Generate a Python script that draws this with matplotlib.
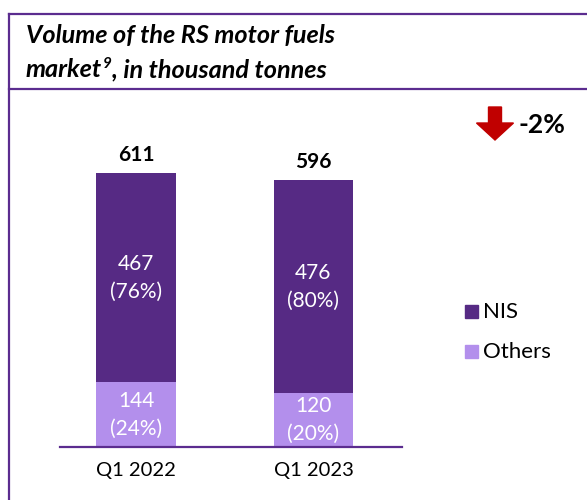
import matplotlib
matplotlib.use("Agg")
import matplotlib.pyplot as plt
from matplotlib.lines import Line2D
from matplotlib.patches import FancyArrow

plt.rcParams['font.family'] = ['Lato', 'DejaVu Sans']

categories = ["Q1 2022", "Q1 2023"]
nis = [467, 476]
others = [144, 120]
totals = [611, 596]
nis_pct = ["76%", "80%"]
others_pct = ["24%", "20%"]
change = "-2%"

dark = "#562a84"
light = "#b38fec"
frame = "#5b2c8f"

fig = plt.figure(figsize=(5.87, 5.0), dpi=100)

# frame around the chart
W, H = 587, 500
def fx(px): return px / W
def fy(py): return 1 - py / H
lw = 1.6
fig.add_artist(Line2D([fx(9), fx(9)], [fy(14), fy(520)], color=frame, lw=lw))
fig.add_artist(Line2D([fx(9), 1.01], [fy(14), fy(14)], color=frame, lw=lw))
fig.add_artist(Line2D([fx(9), 1.01], [fy(89), fy(89)], color=frame, lw=lw))

tkw = dict(fontsize=18.2, fontweight="bold", fontstyle="italic", ha="left")
fig.text(fx(26), fy(35), "Volume of the RS motor fuels", va="center", **tkw)
t1 = fig.text(fx(26), fy(77), "market", va="baseline", **tkw)
r = fig.canvas.get_renderer()
x1 = t1.get_window_extent(r).x1 / W
t2 = fig.text(x1 + fx(1), fy(68), "9", fontsize=11, fontweight="bold",
              fontstyle="italic", va="baseline", ha="left")
x2 = t2.get_window_extent(r).x1 / W
fig.text(x2, fy(77), ", in thousand tonnes", va="baseline", **tkw)

ax = fig.add_axes([fx(60), fy(447), fx(402) - fx(60), fy(100) - fy(447)])
x = [0, 1]
ax.bar(x, others, width=0.45, color=light, zorder=2)
ax.bar(x, nis, width=0.45, bottom=others, color=dark, zorder=2)
ax.set_xlim(-0.428, 1.499)
ax.set_ylim(0, 774)
for s in ["top", "right", "left"]:
    ax.spines[s].set_visible(False)
ax.spines["bottom"].set_color(frame)
ax.spines["bottom"].set_linewidth(1.6)
ax.set_yticks([])
ax.set_xticks(x)
ax.set_xticklabels(categories, fontsize=14.5)
ax.tick_params(axis="x", length=0, pad=11)

for i in x:
    ax.text(i, totals[i] + 18, str(totals[i]), ha="center", va="bottom",
            fontsize=15, fontweight="bold")
    ax.text(i, others[i] + nis[i] / 2, f"{nis[i]}\n({nis_pct[i]})", ha="center",
            va="center", color="white", fontsize=15, linespacing=1.5)
    ax.text(i, others[i] / 2, f"{others[i]}\n({others_pct[i]})", ha="center",
            va="center", color="white", fontsize=15, linespacing=1.5)

# legend
fig.add_artist(plt.Rectangle((fx(465), fy(318)), fx(13), 13 / H, color=dark))
fig.add_artist(plt.Rectangle((fx(465), fy(358)), fx(13), 13 / H, color=light))
fig.text(fx(483), fy(312), "NIS", fontsize=16, va="center", ha="left")
fig.text(fx(483), fy(352), "Others", fontsize=16, va="center", ha="left")

# change arrow
fig.add_artist(FancyArrow(fx(495), fy(107), 0, -33 / H, width=fx(13),
                          head_width=fx(37), head_length=17 / H,
                          length_includes_head=True, color="#c00000",
                          transform=fig.transFigure))
fig.text(fx(519), fy(125), change, fontsize=19, fontweight="bold", va="center", ha="left")

fig.savefig("out.png", dpi=100)
